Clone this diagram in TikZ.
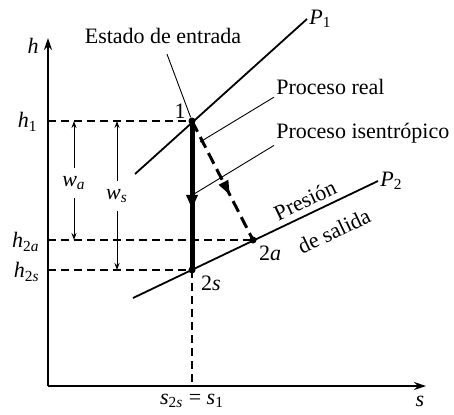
\documentclass[tikz,border=0pt]{standalone}
\usepackage{fontspec}
\setmainfont{Liberation Serif}
\usepackage{tikz}
\usetikzlibrary{arrows.meta,positioning,calc,decorations.markings}
\newcommand{\ivar}[1]{\textit{#1}}
\newcommand{\lowsub}[1]{\textsubscript{#1}}
\tikzset{
  guide/.style={line width=0.6pt, dash pattern=on 4pt off 2.5pt},
  isobar/.style={line width=0.9pt},
  leader/.style={line width=0.45pt},
  lbl/.style={font=\fontsize{11}{13}\selectfont, inner sep=1pt},
  dimarrow/.style={line width=0.5pt, {Stealth[length=3.5pt,width=2.5pt]}-{Stealth[length=3.5pt,width=2.5pt]}},
  dot/.style={circle, fill=black, inner sep=0pt, minimum size=3.5pt}
}
\begin{document}
\begin{tikzpicture}[x=0.5pt, y=-0.5pt]
    \useasboundingbox (0,0) rectangle (454,414);
    % Axes
    \coordinate (orig) at (48,386);
    \coordinate (htop) at (48,38);
    \coordinate (sright) at (426,386);
    \draw[line width=0.7pt, -{Stealth[length=6pt,width=4pt]}] (orig) -- (htop);
    \draw[line width=0.7pt, -{Stealth[length=6pt,width=4pt]}] (orig) -- (sright);
    \node[lbl] (hlab) at (33,46) {\ivar{h}};
    \node[lbl] (slab) at (420,401) {\ivar{s}};
    % States
    \coordinate (st1) at (192,121);
    \coordinate (st2s) at (192,270);
    \coordinate (st2a) at (253,240);
    % Isobars
    \coordinate (pa) at (135,174);
    \coordinate (pb) at (307,19);
    \coordinate (pc) at (133,298);
    \coordinate (pd) at (378,181);
    \draw[isobar] (pa) -- (pb);
    \draw[isobar] (pc) -- (pd);
    \node[lbl, anchor=west] (pone) at (pb) {\ivar{P}\lowsub{1}};
    \node[lbl, anchor=west] (ptwo) at (pd) {\ivar{P}\lowsub{2}};
    \node[lbl, rotate=25.5] (presion) at (305,200) {Presión};
    \node[lbl, rotate=25.5] (salida) at (334,231) {de salida};
    % Guide lines
    \draw[guide] (orig |- st1) -- (st1);
    \draw[guide] (orig |- st2a) -- (st2a);
    \draw[guide] (orig |- st2s) -- (st2s);
    \draw[guide] (st2s) -- (st2s |- orig);
    \node[lbl, anchor=east] (hone) at (40,122) {\ivar{h}\lowsub{1}};
    \node[lbl, anchor=east] (htwoa) at (42,242) {\ivar{h}\lowsub{2\ivar{a}}};
    \node[lbl, anchor=east] (htwos) at (42,272) {\ivar{h}\lowsub{2\ivar{s}}};
    \node[lbl] (sax) at (192,401) {\ivar{s}\lowsub{2\ivar{s}} = \ivar{s}\lowsub{1}};
    % Work arrows
    \draw[dimarrow] (74,121) -- (74,240);
    \draw[dimarrow] (117,121) -- (117,270);
    \node[lbl, fill=white, inner ysep=4pt] (wa) at (74,183) {\ivar{w}\lowsub{\ivar{a}}};
    \node[lbl, fill=white, inner ysep=4pt] (ws) at (117,196) {\ivar{w}\lowsub{\ivar{s}}};
    % Processes
    \draw[line width=2.5pt, decoration={markings, mark=at position 0.59 with {\arrow{Triangle[length=7pt,width=5.5pt]}}}, postaction={decorate}] (st1) -- (st2s);
    \draw[line width=1.5pt, dash pattern=on 6pt off 3pt, decoration={markings, mark=at position 0.62 with {\arrow{Triangle[length=7pt,width=5pt]}}}, postaction={decorate}] (st1) -- (st2a);
    \node[dot] at (st1) {};
    \node[dot] at (st2s) {};
    \node[dot] at (st2a) {};
    \node[lbl] (lone) at (180,111) {1};
    \node[lbl] (ltwos) at (211,283) {2\ivar{s}};
    \node[lbl] (ltwoa) at (270,253) {2\ivar{a}};
    % Callouts
    \node[lbl] (estado) at (163,36) {Estado de entrada};
    \node[lbl, anchor=west] (preal) at (274,87) {Proceso real};
    \node[lbl, anchor=west] (pisen) at (274,133) {Proceso isentrópico};
    \coordinate (realend) at (200,142);
    \coordinate (isenend) at (194,194);
    \draw[leader, shorten >=2pt] ([xshift=2pt,yshift=-4pt]estado.south) -- (st1);
    \draw[leader] (preal.south west) -- (realend);
    \draw[leader] (pisen.south west) -- (isenend);
\end{tikzpicture}
\end{document}
